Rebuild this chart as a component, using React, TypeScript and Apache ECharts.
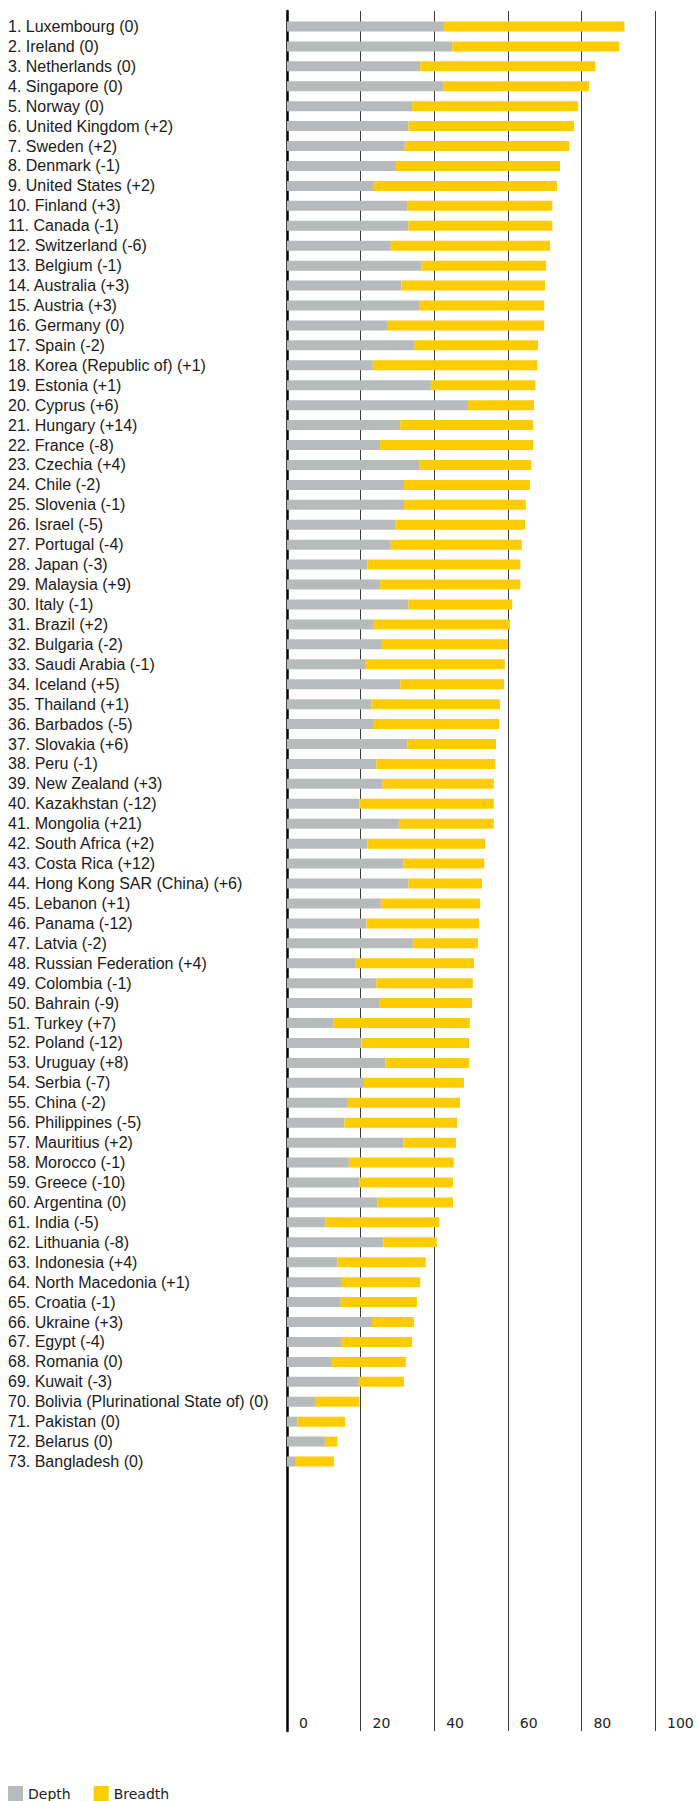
import React, { useEffect, useRef } from "react";
import * as echarts from "echarts";

const countries: string[] = [
  "1. Luxembourg (0)",
  "2. Ireland (0)",
  "3. Netherlands (0)",
  "4. Singapore (0)",
  "5. Norway (0)",
  "6. United Kingdom (+2)",
  "7. Sweden (+2)",
  "8. Denmark (-1)",
  "9. United States (+2)",
  "10. Finland (+3)",
  "11. Canada (-1)",
  "12. Switzerland (-6)",
  "13. Belgium (-1)",
  "14. Australia (+3)",
  "15. Austria (+3)",
  "16. Germany (0)",
  "17. Spain (-2)",
  "18. Korea (Republic of) (+1)",
  "19. Estonia (+1)",
  "20. Cyprus (+6)",
  "21. Hungary (+14)",
  "22. France (-8)",
  "23. Czechia (+4)",
  "24. Chile (-2)",
  "25. Slovenia (-1)",
  "26. Israel (-5)",
  "27. Portugal (-4)",
  "28. Japan (-3)",
  "29. Malaysia (+9)",
  "30. Italy (-1)",
  "31. Brazil (+2)",
  "32. Bulgaria (-2)",
  "33. Saudi Arabia (-1)",
  "34. Iceland (+5)",
  "35. Thailand (+1)",
  "36. Barbados (-5)",
  "37. Slovakia (+6)",
  "38. Peru (-1)",
  "39. New Zealand (+3)",
  "40. Kazakhstan (-12)",
  "41. Mongolia (+21)",
  "42. South Africa (+2)",
  "43. Costa Rica (+12)",
  "44. Hong Kong SAR (China) (+6)",
  "45. Lebanon (+1)",
  "46. Panama (-12)",
  "47. Latvia (-2)",
  "48. Russian Federation (+4)",
  "49. Colombia (-1)",
  "50. Bahrain (-9)",
  "51. Turkey (+7)",
  "52. Poland (-12)",
  "53. Uruguay (+8)",
  "54. Serbia (-7)",
  "55. China (-2)",
  "56. Philippines (-5)",
  "57. Mauritius (+2)",
  "58. Morocco (-1)",
  "59. Greece (-10)",
  "60. Argentina (0)",
  "61. India (-5)",
  "62. Lithuania (-8)",
  "63. Indonesia (+4)",
  "64. North Macedonia (+1)",
  "65. Croatia (-1)",
  "66. Ukraine (+3)",
  "67. Egypt (-4)",
  "68. Romania (0)",
  "69. Kuwait (-3)",
  "70. Bolivia (Plurinational State of) (0)",
  "71. Pakistan (0)",
  "72. Belarus (0)",
  "73. Bangladesh (0)",
];

const depth: number[] = [
  42.7, 44.9, 36.2, 42.4, 34.0, 33.0, 32.0, 29.6, 23.6, 32.8,
  33.0, 28.2, 36.6, 31.1, 35.9, 27.4, 34.7, 23.3, 39.1, 49.2,
  30.8, 25.3, 35.9, 31.8, 31.8, 29.4, 28.2, 21.9, 25.3, 33.0,
  23.6, 25.8, 21.2, 30.8, 22.9, 23.6, 32.8, 24.3, 26.0, 19.7,
  30.4, 21.9, 31.6, 33.0, 25.5, 21.6, 34.2, 18.5, 24.3, 25.0,
  12.7, 20.2, 26.7, 20.9, 16.3, 15.6, 31.6, 16.8, 19.7, 24.5,
  10.5, 26.2, 13.7, 14.9, 14.6, 23.1, 14.9, 12.2, 19.5, 7.6,
  2.8, 10.3, 2.4,
];

const breadth: number[] = [
  49.0, 45.4, 47.6, 39.7, 45.1, 45.0, 44.7, 44.6, 49.8, 39.3,
  39.1, 43.3, 33.8, 39.0, 34.0, 42.5, 33.5, 44.7, 28.4, 17.9,
  36.1, 41.6, 30.5, 34.2, 33.1, 35.3, 35.6, 41.5, 38.1, 28.2,
  37.0, 34.3, 38.0, 28.2, 35.0, 34.1, 24.0, 32.3, 30.2, 36.5,
  25.8, 31.9, 22.0, 20.0, 27.0, 30.6, 17.7, 32.3, 26.2, 25.3,
  37.0, 29.3, 22.8, 27.2, 30.7, 30.6, 14.3, 28.5, 25.4, 20.6,
  30.9, 14.5, 24.0, 21.3, 20.7, 11.4, 19.1, 20.1, 12.3, 12.1,
  13.0, 3.4, 10.4,
];

const seriesNames: string[] = ["Depth", "Breadth"];
const seriesColors: string[] = ["#b8bbbb", "#ffcc00"];

export default function App() {
  const ref = useRef<HTMLDivElement>(null);

  useEffect(() => {
    if (!ref.current) return;
    const chart = echarts.init(ref.current, null, { renderer: "svg" });
    const labelFont = "'Liberation Sans', Arial, sans-serif";
    const smallFont = "'DejaVu Sans', Verdana, sans-serif";
    chart.setOption({
      animation: false,
      backgroundColor: "#ffffff",
      legend: {
        data: seriesNames,
        left: 8,
        top: 1786,
        icon: "rect",
        itemWidth: 15,
        itemHeight: 15,
        itemGap: 23,
        padding: 0,
        textStyle: { fontFamily: smallFont, fontSize: 14, color: "#222" },
      },
      grid: [
        { left: 287, right: 42, top: 16.5, height: 1455, containLabel: false },
        { left: 287, right: 42, top: 11, height: 1720, containLabel: false },
      ],
      xAxis: [
        {
          gridIndex: 0,
          type: "value",
          min: 0,
          max: 100,
          show: false,
        },
        {
          gridIndex: 1,
          type: "value",
          min: 0,
          max: 100,
          interval: 20,
          position: "bottom",
          axisLine: { show: false },
          axisTick: { show: false },
          splitLine: { show: true, lineStyle: { color: "#3a3a3a", width: 1 } },
          axisLabel: {
            inside: true,
            margin: 8,
            align: "left",
            verticalAlign: "middle",
            padding: [0, 0, 0, 12],
            showMinLabel: true,
            showMaxLabel: true,
            fontFamily: smallFont,
            fontSize: 14,
            color: "#222",
          },
        },
      ],
      yAxis: [
        {
          gridIndex: 0,
          type: "category",
          inverse: true,
          data: countries,
          axisLine: { show: false },
          axisTick: { show: false },
          axisLabel: {
            align: "left",
            margin: 279,
            fontFamily: labelFont,
            fontSize: 16,
            color: "#1a1a1a",
            interval: 0,
          },
        },
        {
          gridIndex: 1,
          type: "value",
          min: 0,
          max: 1,
          axisLine: { show: true, lineStyle: { color: "#000", width: 2.5 } },
          axisTick: { show: false },
          axisLabel: { show: false },
          splitLine: { show: false },
        },
      ],
      series: [
        {
          name: seriesNames[0],
          type: "bar",
          stack: "total",
          xAxisIndex: 0,
          yAxisIndex: 0,
          barWidth: 10,
          itemStyle: { color: seriesColors[0] },
          data: depth,
        },
        {
          name: seriesNames[1],
          type: "bar",
          stack: "total",
          xAxisIndex: 0,
          yAxisIndex: 0,
          barWidth: 10,
          itemStyle: { color: seriesColors[1] },
          data: breadth,
        },
      ],
    });
    return () => chart.dispose();
  }, []);

  return (
    <div
      ref={ref}
      style={{ position: "absolute", left: 0, top: 0, width: 697, height: 1801 }}
    />
  );
}
